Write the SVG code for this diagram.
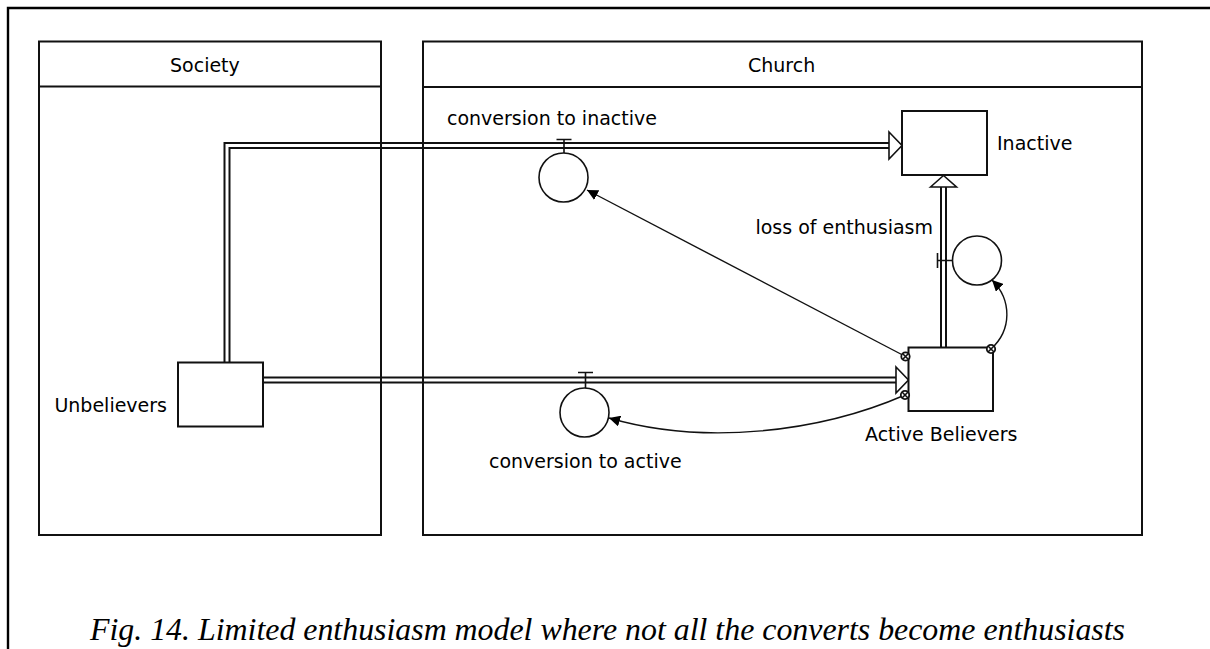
<svg xmlns="http://www.w3.org/2000/svg" width="1210" height="649" viewBox="0 0 1210 649">
<defs>
<style>
.lbl{font-family:"DejaVu Sans","Liberation Sans",sans-serif;font-size:19px;fill:#000}
.cap{font-family:"Liberation Serif","Times New Roman",serif;font-style:italic;font-size:32px;fill:#000}
.box{fill:none;stroke:#111;stroke-width:2}
.stock{fill:#fff;stroke:#111;stroke-width:2}
.pipeo{fill:none;stroke:#111;stroke-width:7;stroke-linejoin:miter}
.pipei{fill:none;stroke:#fff;stroke-width:3;stroke-linejoin:miter}
.tri{fill:#fff;stroke:#111;stroke-width:1.6;stroke-linejoin:miter}
.valve{fill:#fff;stroke:#111;stroke-width:1.6}
.stem{fill:none;stroke:#111;stroke-width:1.6}
.link{fill:none;stroke:#111;stroke-width:1.4}
.dot{fill:#fff;stroke:#111;stroke-width:1.8}
</style>
<marker id="ah" viewBox="0 0 10 10" refX="10" refY="5" markerWidth="11" markerHeight="11" markerUnits="userSpaceOnUse" orient="auto">
<path d="M0,0 L10,5 L0,10 z" fill="#000"/>
</marker>
</defs>
<rect width="1210" height="649" fill="#fff"/>
<g id="frame">
<path d="M8,649 V8 H1210" fill="none" stroke="#000" stroke-width="2.4"/>
</g>
<g id="connectors">
<path class="pipeo" d="M227,362 V145.5 H890"/>
<path class="pipei" d="M227,362 V145.5 H890"/>
<polygon class="tri" points="889,132 902,145.5 889,159"/>
<path class="pipeo" d="M263,380 H896"/>
<path class="pipei" d="M263,380 H896"/>
<polygon class="tri" points="896,367 908.5,380 896,393"/>
<path class="pipeo" d="M943.5,347 V187"/>
<path class="pipei" d="M943.5,347 V187"/>
<polygon class="tri" points="930.5,187 943.5,175.5 956.5,187"/>
<path class="link" d="M905.5,356.5 L587,190" marker-end="url(#ah)"/>
<path class="link" d="M905,395 C820,432 705,446 609,418" marker-end="url(#ah)"/>
<path class="link" d="M991,349 C1012,330 1012,300 992,280" marker-end="url(#ah)"/>
</g>
<g id="society">
<rect class="box" x="39" y="41.5" width="342" height="493.5"/>
<line class="box" x1="39" y1="86.5" x2="381" y2="86.5"/>
<text class="lbl" x="170" y="72">Society</text>
</g>
<g id="church">
<rect class="box" x="423" y="41.5" width="719" height="493.5"/>
<line class="box" x1="423" y1="87" x2="1142" y2="87"/>
<text class="lbl" x="748" y="72">Church</text>
</g>
<g id="unbelievers">
<rect class="stock" x="178" y="362.5" width="85" height="64"/>
<text class="lbl" x="167" y="412" text-anchor="end">Unbelievers</text>
</g>
<g id="inactive">
<rect class="stock" x="902" y="111" width="85" height="64"/>
<text class="lbl" x="997" y="150">Inactive</text>
</g>
<g id="active-believers">
<rect class="stock" x="908.5" y="347.5" width="84.5" height="63.5"/>
<text class="lbl" x="865" y="441">Active Believers</text>
<circle class="dot" cx="905.5" cy="356.5" r="4.2"/>
<path class="stem" d="M902.5,353.5 L908.5,359.5 M908.5,353.5 L902.5,359.5"/>
<circle class="dot" cx="905" cy="395" r="4.2"/>
<path class="stem" d="M902,392 L908,398 M908,392 L902,398"/>
<circle class="dot" cx="991" cy="349" r="4.2"/>
<path class="stem" d="M988,346 L994,352 M994,346 L988,352"/>
</g>
<g id="conversion-to-inactive">
<path class="stem" d="M556.5,139.5 H571.5 M564,139.5 V153"/>
<circle class="valve" cx="563.5" cy="177.5" r="24.5"/>
<text class="lbl" x="447" y="125">conversion to inactive</text>
</g>
<g id="conversion-to-active">
<path class="stem" d="M578,372.5 H593 M585.5,372.5 V388"/>
<circle class="valve" cx="584.5" cy="412.5" r="24.5"/>
<text class="lbl" x="489" y="468">conversion to active</text>
</g>
<g id="loss-of-enthusiasm">
<path class="stem" d="M937.5,253 V268 M937.5,260.5 H952.5"/>
<circle class="valve" cx="977" cy="260.5" r="24.5"/>
<text class="lbl" x="933" y="234" text-anchor="end">loss of enthusiasm</text>
</g>
<g id="caption">
<text class="cap" x="90" y="640" textLength="1035" lengthAdjust="spacingAndGlyphs">Fig. 14. Limited enthusiasm model where not all the converts become enthusiasts</text>
</g>
</svg>
